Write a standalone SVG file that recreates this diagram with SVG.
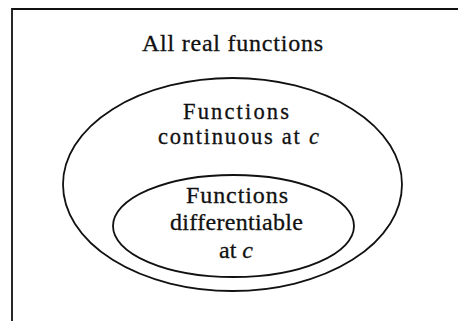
<svg xmlns="http://www.w3.org/2000/svg" width="458" height="321" viewBox="0 0 458 321">
<style>
.ln{fill:none;stroke:#111;stroke-width:1.8}
.t{font-family:"Liberation Serif","Times New Roman",serif;font-size:24px;fill:#111;stroke:#111;stroke-width:0.3;text-anchor:middle}
.s{font-size:22.5px}
.i{font-style:italic}
</style>
<rect width="458" height="321" fill="#fff"/>
<g id="all-real-functions">
<path class="ln" d="M12 321 V9 H458" stroke-width="2"/>
<text class="t" x="232.5" y="51" textLength="181" lengthAdjust="spacing">All real functions</text>
</g>
<g id="continuous">
<ellipse class="ln" cx="232.5" cy="184.5" rx="169.5" ry="106.5"/>
<text class="t s" x="236" y="118.5" textLength="106" lengthAdjust="spacing">Functions</text>
<text class="t s" x="238.5" y="143.5" textLength="161" lengthAdjust="spacing">continuous at <tspan class="i">c</tspan></text>
</g>
<g id="differentiable">
<ellipse class="ln" cx="233.5" cy="226" rx="120.5" ry="51"/>
<text class="t" x="237" y="203" textLength="102" lengthAdjust="spacing">Functions</text>
<text class="t" x="236.5" y="230" textLength="133" lengthAdjust="spacing">differentiable</text>
<text class="t" x="236" y="257.5">at <tspan class="i">c</tspan></text>
</g>
<g id="connectors"/>
</svg>
